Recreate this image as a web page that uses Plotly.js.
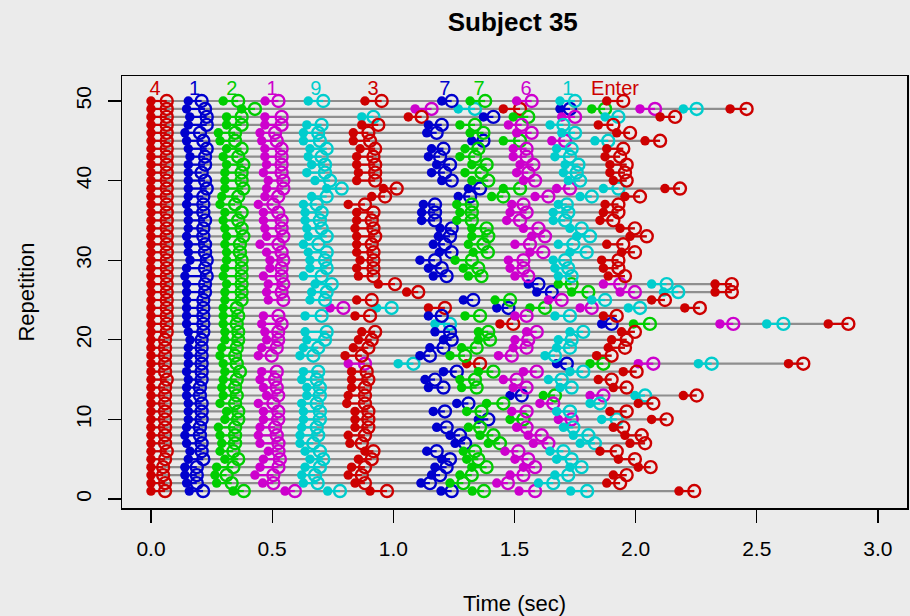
<!DOCTYPE html>
<html><head><meta charset="utf-8">
<script src="https://cdn.plot.ly/plotly-3.0.1.min.js"></script>
<style>html,body{margin:0;padding:0;background:#ebebeb;}#chart{width:910px;height:616px;}</style>
</head><body><div id="chart"></div>
<script>
// ---------- data (seconds), one value per repetition 1..50 ----------
const repetitions = [1,2,3,4,5,6,7,8,9,10,11,12,13,14,15,16,17,18,19,20,21,22,23,24,25,26,27,28,29,30,31,32,33,34,35,36,37,38,39,40,41,42,43,44,45,46,47,48,49,50];
const keyLabels = ["4","1","2","1","9","3","7","7","6","1","Enter"];
const keyLabelTimes = [0.017,0.18,0.334,0.50,0.68,0.916,1.213,1.354,1.548,1.72,1.915];
const keyLabelRow = 51.4;

const press_4 = [0,0,0,0,0,0,0,0,0,0, 0,0,0,0,0,0,0,0,0,0, 0,0,0,0,0,0,0,0,0,0, 0,0,0,0,0,0,0,0,0,0, 0,0,0,0,0,0,0,0,0,0];
const release_4 = [.058,.058,.05,.05,.058,.065,.058,.058,.058,.058, .058,.058,.058,.058,.065,.058,.058,.058,.058,.058, .065,.065,.065,.065,.065,.065,.065,.065,.065,.065, .065,.065,.065,.065,.065,.065,.065,.065,.065,.065, .065,.065,.065,.065,.065,.065,.065,.065,.065,.065];
const press_1a = [.158,.147,.14,.14,.154,.161,.147,.14,.147,.154, .154,.154,.147,.147,.154,.147,.154,.154,.154,.161, .154,.147,.147,.147,.147,.147,.147,.14,.147,.161, .154,.154,.147,.154,.154,.154,.147,.154,.154,.154, .154,.154,.161,.154,.147,.14,.154,.16,.147,.154];
const release_1a = [.215,.189,.189,.189,.216,.209,.209,.202,.202,.209, .209,.209,.202,.202,.209,.209,.209,.209,.209,.209, .216,.216,.216,.216,.216,.223,.223,.23,.223,.23, .223,.223,.216,.216,.223,.216,.216,.216,.23,.223, .209,.223,.223,.23,.216,.202,.23,.23,.223,.209];
const press_2 = [.339,.271,.264,.271,.305,.285,.292,.285,.278,.305, .312,.285,.298,.292,.298,.305,.298,.285,.292,.305, .305,.298,.298,.298,.305,.305,.312,.298,.305,.312, .312,.305,.312,.305,.298,.305,.285,.292,.305,.305, .305,.312,.298,.312,.285,.278,.312,.312,.374,.298];
const release_2 = [.383,.333,.312,.34,.36,.34,.347,.347,.347,.36, .36,.347,.354,.347,.354,.367,.354,.347,.354,.36, .36,.354,.36,.354,.374,.374,.374,.374,.374,.374, .367,.367,.381,.374,.36,.374,.347,.36,.381,.374, .374,.381,.36,.374,.347,.347,.374,.374,.429,.36];
const press_1b = [.553,.461,.429,.45,.464,.484,.45,.443,.45,.464, .464,.443,.477,.464,.45,.457,.814,.443,.457,.477, .47,.457,.464,.739,.484,.477,.484,.464,.491,.491, .477,.45,.477,.47,.464,.464,.443,.47,.477,.484, .464,.477,.47,.47,.457,.45,.47,.47,1.09,.471];
const release_1b = [.594,.505,.505,.526,.532,.526,.526,.519,.512,.525, .525,.505,.525,.519,.512,.519,.883,.498,.519,.525, .525,.539,.526,.794,.546,.539,.546,.539,.539,.546, .539,.526,.546,.539,.539,.525,.505,.525,.546,.546, .539,.539,.539,.539,.519,.512,.539,.539,1.158,.526];
const press_9 = [.729,.629,.622,.636,.656,.636,.615,.615,.622,.629, .629,.622,.643,.643,.622,.629,1.02,.615,.629,.643, .636,1.172,.636,.931,.656,.663,.677,.629,.656,.656, .649,.629,.649,.643,.636,.636,.629,.663,.725,.677, .643,.663,.649,.656,.629,.629,.643,.87,1.268,.649];
const release_9 = [.78,.688,.677,.697,.711,.697,.67,.69,.684,.697, .697,.684,.697,.697,.684,.69,1.083,.67,.69,.718, .725,1.234,.704,.993,.718,.725,.746,.704,.725,.718, .725,.691,.725,.704,.697,.704,.684,.725,.787,.739, .718,.718,.704,.725,.697,.69,.704,.918,1.337,.711];
const press_3 = [.904,.842,.814,.828,.856,.883,.821,.814,.842,.842, .842,.808,.814,.828,.828,.828,1.303,.801,.835,.856, .87,1.44,.842,1.145,.849,1.055,.938,.856,.849,.863, .849,.849,.849,.842,.849,.849,.814,.911,.959,.849, .856,.849,.849,.863,.835,.835,.87,1.062,1.454,.883];
const release_3 = [.974,.883,.87,.883,.911,.918,.87,.883,.897,.897, .897,.883,.883,.883,.897,.89,1.358,.87,.897,.911, .925,1.495,.904,1.213,.911,1.103,1.007,.918,.918,.918, .918,.911,.925,.918,.911,.918,.883,.966,1.014,.925, .925,.925,.918,.925,.904,.897,.938,1.117,1.523,.952];
const press_7a = [1.197,1.114,1.158,1.172,1.2,1.138,1.255,1.234,1.179,1.351, 1.165,1.262,1.482,1.145,1.131,1.207,1.674,1.11,1.151,1.207, 1.172,1.86,1.145,1.427,1.289,1.592,1.557,1.165,1.145,1.11, 1.19,1.165,1.186,1.193,1.117,1.117,1.124,1.268,1.31,1.2, 1.158,1.179,1.145,1.158,1.324,1.138,1.145,1.372,1.688,1.2];
const release_7a = [1.241,1.151,1.193,1.22,1.234,1.179,1.296,1.275,1.22,1.392, 1.213,1.31,1.53,1.207,1.172,1.262,1.716,1.151,1.207,1.241, 1.234,1.901,1.2,1.475,1.33,1.654,1.599,1.22,1.2,1.172, 1.24,1.213,1.234,1.241,1.172,1.172,1.172,1.317,1.358,1.241, 1.213,1.234,1.193,1.207,1.372,1.179,1.2,1.413,1.729,1.241];
const press_7b = [1.326,1.234,1.275,1.324,1.303,1.289,1.392,1.358,1.31,1.482, 1.303,1.385,1.619,1.282,1.275,1.351,1.812,1.234,1.282,1.351, 1.351,1.991,1.296,1.564,1.42,1.736,1.681,1.31,1.289,1.255, 1.33,1.31,1.324,1.324,1.262,1.275,1.262,1.406,1.454,1.324, 1.296,1.324,1.275,1.296,1.454,1.317,1.275,1.495,1.819,1.317];
const release_7b = [1.374,1.289,1.324,1.385,1.351,1.337,1.44,1.413,1.358,1.537, 1.364,1.454,1.667,1.344,1.337,1.413,1.867,1.296,1.344,1.399, 1.392,2.059,1.358,1.626,1.482,1.805,1.736,1.364,1.351,1.324, 1.39,1.372,1.392,1.385,1.324,1.324,1.324,1.454,1.523,1.392, 1.364,1.385,1.337,1.351,1.523,1.372,1.337,1.557,1.874,1.379];
const press_6 = [1.519,1.427,1.482,1.537,1.502,1.461,1.578,1.557,1.509,1.681, 1.489,1.605,1.812,1.495,1.454,1.537,2.011,1.434,1.495,1.502, 1.55,2.348,1.502,1.771,1.64,1.936,1.867,1.502,1.482,1.475, 1.564,1.502,1.571,1.537,1.468,1.482,1.489,1.585,1.674,1.537, 1.509,1.523,1.495,1.495,1.654,1.509,1.475,1.695,2.018,1.509];
const release_6 = [1.585,1.473,1.537,1.585,1.557,1.516,1.64,1.612,1.55,1.736, 1.55,1.66,1.867,1.55,1.509,1.592,2.073,1.489,1.55,1.557, 1.592,2.403,1.55,1.819,1.695,1.997,1.936,1.557,1.537,1.537, 1.619,1.564,1.626,1.599,1.523,1.55,1.537,1.64,1.729,1.585, 1.557,1.578,1.55,1.55,1.709,1.571,1.53,1.75,2.08,1.571];
const press_1c = [1.732,1.599,1.667,1.729,1.674,1.647,1.771,1.743,1.702,1.86, 1.674,1.812,1.997,1.688,1.64,1.729,2.259,1.626,1.674,1.681, 1.729,2.541,1.667,1.97,1.819,2.115,2.066,1.681,1.667,1.66, 1.729,1.681,1.757,1.729,1.66,1.66,1.681,1.771,1.867,1.722, 1.702,1.709,1.667,1.674,1.832,1.695,1.647,1.874,2.197,1.688];
const release_1c = [1.80,1.66,1.722,1.777,1.736,1.702,1.832,1.805,1.743,1.922, 1.729,1.853,2.039,1.736,1.695,1.784,2.314,1.667,1.729,1.736, 1.784,2.61,1.729,2.018,1.874,2.176,2.128,1.736,1.722,1.709, 1.798,1.743,1.812,1.777,1.709,1.722,1.716,1.819,1.929,1.771, 1.757,1.764,1.729,1.736,1.887,1.75,1.702,1.929,2.252,1.75];
const press_enter = [2.179,1.881,1.908,2.011,1.929,1.853,1.977,1.956,1.908,2.066, 1.894,2.011,2.197,1.908,1.846,1.949,2.631,1.839,1.887,1.901, 1.942,2.795,1.867,2.203,2.066,2.328,2.328,1.887,1.867,1.86, 1.942,1.881,1.977,1.936,1.853,1.867,1.874,1.956,2.121,1.908, 1.894,1.894,1.874,1.881,2.039,1.922,1.846,2.101,2.39,1.881];
const release_enter = [2.242,1.936,1.963,2.062,1.997,1.922,2.039,2.025,1.949,2.128, 1.963,2.073,2.252,1.963,1.901,2.004,2.692,1.901,1.956,1.963, 1.997,2.878,1.922,2.265,2.121,2.397,2.397,1.956,1.929,1.929, 1.997,1.949,2.046,1.997,1.908,1.929,1.929,2.018,2.183,1.963, 1.956,1.963,1.936,1.949,2.101,1.977,1.908,2.163,2.458,1.949];

// ---------- styling ----------
const keyColors = ["#CD0000","#0000CD","#00CD00","#CD00CD","#00CDCD","#CD0000","#0000CD","#00CD00","#CD00CD","#00CDCD","#CD0000"];
const presses = [press_4,press_1a,press_2,press_1b,press_9,press_3,press_7a,press_7b,press_6,press_1c,press_enter];
const releases = [release_4,release_1a,release_2,release_1b,release_9,release_3,release_7a,release_7b,release_6,release_1c,release_enter];

const traces = [];
// grey line for each repetition from 0 to the last release
const gx = [], gy = [];
repetitions.forEach((r,i) => {
  let last = 0;
  releases.forEach(a => { if (a[i] > last) last = a[i]; });
  gx.push(0, last, null); gy.push(r, r, null);
});
traces.push({x:gx, y:gy, mode:'lines', line:{color:'#8e8e8e', width:2.2}, hoverinfo:'skip'});

presses.forEach((p,k) => {
  const rel = releases[k];
  const sx = [], sy = [];
  repetitions.forEach((r,i) => { sx.push(p[i], rel[i], null); sy.push(r, r, null); });
  traces.push({x:sx, y:sy, mode:'lines', line:{color:keyColors[k], width:2.2}, hoverinfo:'skip'});
  traces.push({x:rel, y:repetitions, mode:'markers',
    marker:{symbol:'circle-open', size:12, color:keyColors[k], line:{width:2.4, color:keyColors[k]}}});
  traces.push({x:p, y:repetitions, mode:'markers',
    marker:{symbol:'circle', size:9.5, color:keyColors[k]}});
});

traces.push({x:keyLabelTimes, y:keyLabels.map(()=>keyLabelRow), mode:'text', text:keyLabels,
  textposition:'middle center', cliponaxis:false,
  textfont:{family:'Liberation Sans, Arial, sans-serif', size:20, color:keyColors}});

const layout = {
  width:910, height:616,
  paper_bgcolor:'#ebebeb', plot_bgcolor:'#ebebeb',
  margin:{l:122, r:3, t:76, b:108},
  showlegend:false,
  font:{family:'Liberation Sans, Arial, sans-serif', color:'#000'},
  title:{text:'<b>Subject 35</b>', x:0.5635, xanchor:'center', y:0.964, yanchor:'middle',
         font:{size:26, family:'Liberation Sans, Arial, sans-serif', color:'#000'}},
  xaxis:{range:[-0.1197,3.12], tickvals:[0,0.5,1,1.5,2,2.5,3], ticktext:['0.0','0.5','1.0','1.5','2.0','2.5','3.0'],
    ticks:'outside', ticklen:13, tickwidth:1.3, tickcolor:'#000', showline:true, mirror:true, linecolor:'#000', linewidth:1.5,
    showgrid:false, zeroline:false, tickfont:{size:21}, ticklabelstandoff:8,
    title:{text:'Time (sec)', font:{size:22}, standoff:37}},
  yaxis:{range:[-1.13,53.14], tickvals:[0,10,20,30,40,50], ticktext:['0','10','20','30','40','50'], tickangle:-90,
    ticks:'outside', ticklen:13, tickwidth:1.3, tickcolor:'#000', showline:true, mirror:true, linecolor:'#000', linewidth:1.5,
    showgrid:false, zeroline:false, tickfont:{size:21}, ticklabelstandoff:8,
    title:{text:'Repetition', font:{size:22}, standoff:31}}
};
Plotly.newPlot('chart', traces, layout, {displayModeBar:false, staticPlot:true});
</script></body></html>
